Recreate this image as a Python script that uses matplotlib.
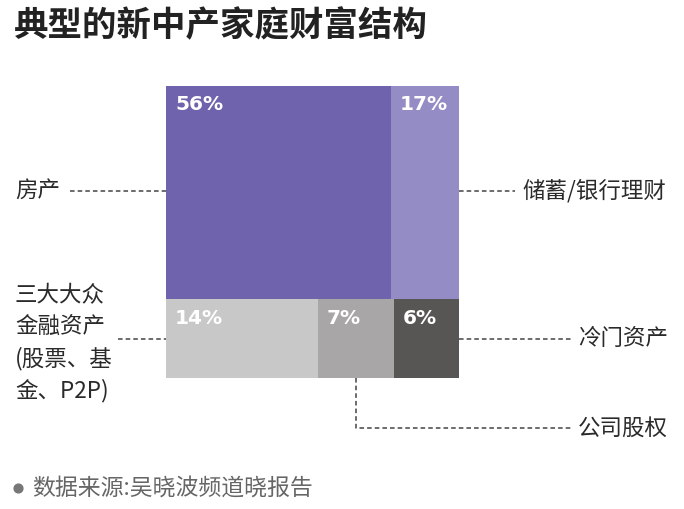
import matplotlib
matplotlib.use("Agg")
import matplotlib.pyplot as plt
from matplotlib.patches import Rectangle

plt.rcParams['font.family'] = ['Noto Sans CJK SC', 'DejaVu Sans']

title = "典型的新中产家庭财富结构"
source = "数据来源:吴晓波频道晓报告"
top_labels = ["房产", "储蓄/银行理财"]
top_values = [56, 17]
top_colors = ["#6E63AC", "#948CC4"]
bottom_labels = ["三大大众\n金融资产\n(股票、基\n金、P2P)", "公司股权", "冷门资产"]
bottom_values = [14, 7, 6]
bottom_colors = ["#C8C8C8", "#A8A6A7", "#585655"]

W, H = 684, 509
fig = plt.figure(figsize=(W / 100, H / 100), dpi=100)

# treemap box in pixels
bx0, by0, bw, bh = 166, 86, 293, 292
ax = fig.add_axes([bx0 / W, 1 - (by0 + bh) / H, bw / W, bh / H])
ax.set_xlim(0, 100)
ax.set_ylim(0, 100)
ax.axis('off')

total = sum(top_values) + sum(bottom_values)
top_h = 100 * sum(top_values) / total
bot_h = 100 - top_h

cells = []
x = 0
for v, c in zip(top_values, top_colors):
    w = 100 * v / sum(top_values)
    ax.add_patch(Rectangle((x, bot_h), w, top_h, color=c, lw=0))
    cells.append((x, bot_h, w, top_h, v))
    x += w
x = 0
for v, c in zip(bottom_values, bottom_colors):
    w = 100 * v / sum(bottom_values)
    ax.add_patch(Rectangle((x, 0), w, bot_h, color=c, lw=0))
    cells.append((x, 0, w, bot_h, v))
    x += w

# percent labels (offset in pixels from cell top-left)
for (cx, cy, cw, ch, v) in cells:
    px = bx0 + cx / 100 * bw
    py = by0 + (100 - (cy + ch)) / 100 * bh
    fig.text((px + 9) / W, 1 - (py + 19) / H, f"{v}%", color="white",
             fontsize=14.5, fontweight='bold', family='DejaVu Sans',
             ha='left', va='center')

# overlay in pixel coords
ov = fig.add_axes([0, 0, 1, 1])
ov.set_xlim(0, W)
ov.set_ylim(H, 0)
ov.axis('off')
ov.patch.set_alpha(0)

def px_y(yd):
    return by0 + (100 - yd) / 100 * bh

def px_x(xd):
    return bx0 + xd / 100 * bw

dash = dict(color="#444444", lw=1.1, linestyle=(0, (3, 2)))
lab = dict(fontsize=16.2, color="#2a2a2a", va='center')

top_mid = px_y(bot_h + top_h / 2) - 2
bot_mid = px_y(bot_h / 2)

# 房产
ov.plot([70, bx0], [top_mid, top_mid], **dash)
ov.text(15, top_mid, top_labels[0], ha='left', **lab)
# 储蓄
ov.plot([bx0 + bw, 515], [top_mid, top_mid], **dash)
ov.text(522, top_mid, top_labels[1], ha='left', **lab)
# 三大大众
ov.plot([118, bx0], [bot_mid, bot_mid], **dash)
ov.text(15, 343, bottom_labels[0], ha='left', linespacing=1.45, **lab)
# 冷门资产
ov.plot([bx0 + bw, 572], [bot_mid, bot_mid], **dash)
ov.text(578, bot_mid, bottom_labels[2], ha='left', **lab)
# 公司股权
w14 = 100 * bottom_values[0] / sum(bottom_values)
w7 = 100 * bottom_values[1] / sum(bottom_values)
vx = px_x(w14 + w7 / 2)
ov.plot([vx, vx, 572], [by0 + bh, 428, 428], **dash)
ov.text(578, 428, bottom_labels[1], ha='left', **lab)

# title
ov.text(14, 26, title, fontsize=24.8, fontweight='bold', color="#222222",
        ha='left', va='center')
# source
ov.scatter([18], [488], s=40, color="#777777")
ov.text(32, 488, source, fontsize=16.5, color="#666666", ha='left', va='center')

fig.savefig("out.png", dpi=100, facecolor='white')
